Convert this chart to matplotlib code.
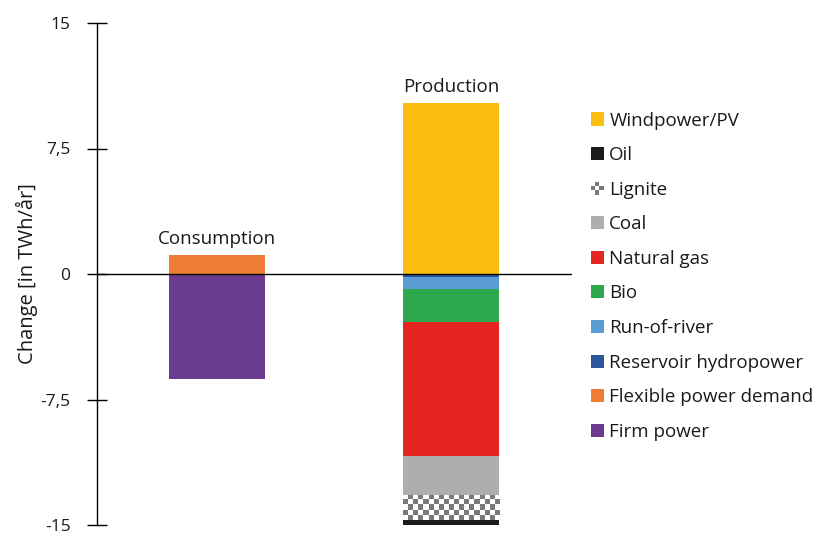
import numpy as np
import matplotlib.pyplot as plt
from matplotlib.patches import Patch, Rectangle
from matplotlib.colors import ListedColormap
from matplotlib.legend_handler import HandlerPatch

plt.rcParams['font.family'] = ['Open Sans', 'DejaVu Sans']

# data (TWh/year)
groups = ["Consumption", "Production"]
consumption_labels = ["Firm power", "Flexible power demand"]
consumption_values = [-6.28, 1.14]
production_labels = ["Windpower/PV", "Reservoir hydropower", "Run-of-river", "Bio",
                     "Natural gas", "Coal", "Lignite", "Oil"]
production_values = [10.22, -0.15, -0.75, -1.95, -8.0, -2.35, -1.5, -0.35]
yticks = [-15, -7.5, 0, 7.5, 15]
ytick_labels = ["-15", "-7,5", "0", "7,5", "15"]

colors = {
    "Windpower/PV": "#fbbf10",
    "Oil": "#1b1b1b",
    "Lignite": "#7a7878",
    "Coal": "#b0adad",
    "Natural gas": "#e52620",
    "Bio": "#2ea84f",
    "Run-of-river": "#5b9bd5",
    "Reservoir hydropower": "#2e569a",
    "Flexible power demand": "#ef7d33",
    "Firm power": "#6a3b8f",
}
legend_order = ["Windpower/PV", "Oil", "Lignite", "Coal", "Natural gas", "Bio",
                "Run-of-river", "Reservoir hydropower", "Flexible power demand", "Firm power"]

fig = plt.figure(figsize=(8.21, 5.34), dpi=100)
ax = fig.add_axes([97 / 821, 1 - 525 / 534, 475 / 821, 502 / 534])

x = [1, 2]
w = 0.41


def stack(xpos, labels, values):
    pos, neg = 0.0, 0.0
    bars = {}
    for lab, v in zip(labels, values):
        if v >= 0:
            b = ax.bar(xpos, v, w, bottom=pos, color=colors[lab], linewidth=0)
            pos += v
        else:
            b = ax.bar(xpos, v, w, bottom=neg, color=colors[lab], linewidth=0)
            neg += v
        bars[lab] = b[0]
    return bars, pos


cbars, ctop = stack(x[0], consumption_labels, consumption_values)
pbars, ptop = stack(x[1], production_labels, production_values)

# checkerboard for lignite
lig = pbars["Lignite"]
lig.set_facecolor("white")
bx, by = lig.get_x(), lig.get_y()
bw, bh = lig.get_width(), lig.get_height()
ncol, nrow = 19, 5
board = (np.add.outer(np.arange(nrow), np.arange(ncol)) % 2).astype(float)
im = ax.imshow(board, cmap=ListedColormap(["white", colors["Lignite"]]), vmin=0, vmax=1,
               interpolation="nearest", extent=[bx, bx + bw, by, by + bh],
               aspect="auto", zorder=2)
im.set_clip_path(lig)

ax.axhline(0, color="black", linewidth=1, zorder=3)

txt = "#1a1a1a"
ax.text(x[0], ctop + 0.4, groups[0], ha="center", va="bottom", fontsize=13.5, color=txt)
ax.text(x[1], ptop + 0.4, groups[1], ha="center", va="bottom", fontsize=13.5, color=txt)

ax.set_xlim(0.49, 2.515)
ax.set_ylim(-15, 15)
ax.set_yticks(yticks)
ax.set_yticklabels(ytick_labels, fontsize=12.5, color=txt)
ax.tick_params(axis="y", direction="inout", length=14, width=1, pad=12)
ax.set_xticks([])
for s in ["top", "right", "bottom"]:
    ax.spines[s].set_visible(False)
ax.spines["left"].set_linewidth(1)
ax.set_ylabel("Change [in TWh/år]", fontsize=14.5, color=txt, labelpad=2)


class CheckerHandler(HandlerPatch):
    def create_artists(self, legend, orig_handle, xdescent, ydescent, width, height, fontsize, trans):
        arts = []
        n = 3
        cw, ch = width / n, height / n
        for i in range(n):
            for j in range(n):
                c = colors["Lignite"] if (i + j) % 2 == 1 else "white"
                r = Rectangle((-xdescent + i * cw, -ydescent + j * ch), cw, ch,
                              facecolor=c, edgecolor="none", transform=trans)
                arts.append(r)
        return arts


handles = [Patch(facecolor=colors[k], edgecolor="none") for k in legend_order]
leg = fig.legend(handles, legend_order, loc="upper left",
                 bbox_to_anchor=(583 / 821, 1 - 104 / 534), borderaxespad=0,
                 frameon=False, fontsize=13.5, handlelength=0.7, handleheight=0.7,
                 handletextpad=0.3, labelspacing=0.885,
                 handler_map={handles[2]: CheckerHandler()})
for t in leg.get_texts():
    t.set_color(txt)

fig.savefig("out.png", dpi=100)
